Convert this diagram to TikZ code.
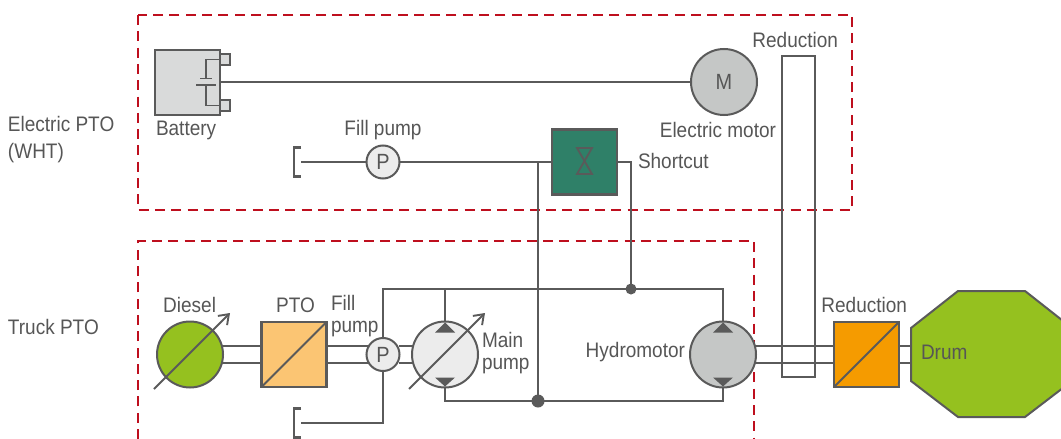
\documentclass[tikz,border=0pt]{standalone}
\usepackage{fontspec}
\setmainfont[FakeStretch=0.905]{Liberation Sans}
\usepackage{tikz}
\usetikzlibrary{arrows.meta,positioning,calc}
\definecolor{linegray}{HTML}{5A5A5A}
\definecolor{textgray}{HTML}{565656}
\definecolor{framered}{HTML}{BE0F1E}
\definecolor{dieselgreen}{HTML}{95C11F}
\definecolor{ptoorange}{HTML}{FBC573}
\definecolor{gearorange}{HTML}{F59B00}
\definecolor{valvegreen}{HTML}{2F8068}
\definecolor{motorgray}{HTML}{C5C7C6}
\definecolor{pumpgray}{HTML}{ECECEC}
\definecolor{batterygray}{HTML}{D9DADA}
\newcommand{\pumptris}[1]{
\fill[linegray] ($(#1)+(0,-32)$) -- ($(#1)+(10,-22)$) -- ($(#1)+(-10,-22)$) -- cycle;
\fill[linegray] ($(#1)+(0,32)$) -- ($(#1)+(10,23)$) -- ($(#1)+(-10,23)$) -- cycle;
}
\newcommand{\tankmark}[1]{
\draw[pipe] ($(#1)+(0,-14.5)$) -- ++(-7,0) -- ++(0,29) -- ++(7,0);
}
\tikzset{
label text/.style = {text = textgray, font = \fontsize{21}{22}\selectfont, inner sep = 0, outer sep = 0},
pipe/.style = {draw = linegray, line width = 2.1},
unit/.style = {draw = linegray, line width = 2.2, inner sep = 0, outer sep = 0, minimum size = 65},
rotor/.style = {circle, draw = linegray, line width = 2, inner sep = 0, outer sep = 0, minimum size = 66},
small pump/.style = {circle, draw = linegray, line width = 2, fill = pumpgray, inner sep = 0, outer sep = 0, minimum size = 33, text = textgray, font = \fontsize{22}{24}\selectfont},
joint/.style = {circle, fill = linegray, inner sep = 0, outer sep = 0},
frame box/.style = {draw = framered, line width = 2.4, dash pattern = on 10 off 6.3},
vary/.style = {draw = linegray, line width = 1.9, -{Straight Barb[length=9,width=13,line width=1.9]}}
}
\begin{document}
\begin{tikzpicture}[x = 1pt, y = -1pt]
\useasboundingbox (0,0) rectangle (1061,439);
\clip (0,0) rectangle (1061,439);
% frames
\draw[frame box] (138,15) rectangle (852,210);
\draw[frame box] (138,439) -- (138,241) -- (754,241) -- (754,439);
% electric side
\node[unit, fill = batterygray, line width = 2] (battery) at (187,82) {};
\node[unit, fill = batterygray, minimum size = 10.5, line width = 1.8] (termup) at (225,59.5) {};
\node[unit, fill = batterygray, minimum size = 10.5, line width = 1.8] (termdown) at (225,105.5) {};
\node[rotor, fill = motorgray, text = textgray, font = \fontsize{22}{24}\selectfont] (motor) at (724,82) {M};
\node[draw = linegray, line width = 2, inner sep = 0, outer sep = 0, minimum width = 33, minimum height = 321] (tallgear) at (798.5,216.5) {};
\node[small pump] (fillA) at (383,162) {P};
\node[unit, fill = valvegreen] (valve) at (584.5,162) {};
\coordinate (tankA) at (301,162);
% truck side
\node[rotor, fill = dieselgreen] (diesel) at (190,354.5) {};
\node[unit, fill = ptoorange] (pto) at (294,354.5) {};
\node[small pump] (fillB) at (383,354.5) {P};
\node[rotor, fill = pumpgray] (mainpump) at (445,354.5) {};
\node[rotor, fill = motorgray] (hydro) at (723,354.5) {};
\node[unit, fill = gearorange] (gear) at (866.5,354.5) {};
\coordinate (tankB) at (301,423);
\node[joint, minimum size = 11] (jtop) at (631,289) {};
\node[joint, minimum size = 13] (jbot) at (538,401) {};
% drum
\draw[linegray, line width = 2, fill = dieselgreen] (911,328) -- (958,291) -- (1025,291) -- (1072,328) -- (1072,381) -- (1025,417) -- (958,417) -- (911,381) -- cycle;
\coordinate (drumA) at (911,346);
\coordinate (drumB) at (911,363);
% connectors
\draw[pipe] (battery.east) -- (motor.west);
\draw[pipe] ($(motor.east)+(-2,-9)$) -- ($(motor.east)+(-2,-9)$ -| tallgear.west);
\draw[pipe] ($(motor.east)+(-2,9)$) -- ($(motor.east)+(-2,9)$ -| tallgear.west);
\draw[pipe] (tankA) -- (fillA.west);
\tankmark{tankA}
\draw[pipe] (fillA.east) -- (valve.west);
\draw[pipe] (jbot.center) |- (valve.west);
\draw[pipe] (valve.east) -| (jtop.center);
\draw[pipe] (fillB.north) |- (jtop.center) -| (hydro.north);
\draw[pipe] (mainpump.north) -- (mainpump.north |- jtop.center);
\draw[pipe] (mainpump.south) |- (jbot.center) -| (hydro.south);
\draw[pipe] (fillB.south) |- (tankB);
\tankmark{tankB}
\foreach \off in {-8.5,8.5} {
\draw[pipe] ($(diesel.east)+(-1,\off)$) -- ($(pto.west)+(0,\off)$);
\draw[pipe] ($(pto.east)+(0,\off)$) -- ($(fillB.west)+(1,\off)$);
\draw[pipe] ($(fillB.east)+(-1,\off)$) -- ($(mainpump.west)+(1,\off)$);
\draw[pipe] ($(hydro.east)+(-1,\off)$) -- ($(gear.west)+(0,\off)$);
}
\draw[pipe] (gear.east |- drumA) -- (drumA);
\draw[pipe] (gear.east |- drumB) -- (drumB);
% symbols
\pumptris{mainpump}
\pumptris{hydro}
\draw[vary] (154,389) -- (230,313);
\draw[vary] (409,389) -- (485,313);
\draw[pipe] (pto.south west) -- (pto.north east);
\draw[pipe] (gear.south west) -- (gear.north east);
\draw[linegray, line width = 1.8] (206,78) -- (206,59.5) -- (termup.west);
\draw[linegray, line width = 1.8] (206,85) -- (206,105.5) -- (termdown.west);
\draw[linegray, line width = 1.8] (200,78.5) -- (212,78.5);
\draw[linegray, line width = 1.8] (196,85) -- (216,85);
\draw[linegray, line width = 1.8] (577,148) -- (592,148) -- (577,174) -- (592,174) -- cycle;
% labels
\node[label text, anchor = west] (lblelectric) at (8,124) {Electric PTO};
\node[label text, anchor = west] (lblwht) at (8,153) {(WHT)};
\node[label text, anchor = west] (lbltruck) at (8,327) {Truck PTO};
\node[label text, anchor = west] (lblbattery) at (156,130) {Battery};
\node[label text] (lblfillA) at (383,130) {Fill pump};
\node[label text, anchor = east] (lblmotor) at (776,130) {Electric motor};
\node[label text, anchor = east] (lblredA) at (838,40) {Reduction};
\node[label text, anchor = west] (lblshort) at (638,161) {Shortcut};
\node[label text, anchor = east] (lbldiesel) at (216,305) {Diesel};
\node[label text] (lblpto) at (295.5,305) {PTO};
\node[label text, anchor = west, align = left] (lblfillB) at (331,316.5) {Fill\\pump};
\node[label text, anchor = west, align = left] (lblmain) at (482,353.5) {Main\\pump};
\node[label text, anchor = east] (lblhydro) at (685,352) {Hydromotor};
\node[label text, anchor = east] (lblredB) at (907,305) {Reduction};
\node[label text, anchor = west] (lbldrum) at (921,352) {Drum};
\end{tikzpicture}
\end{document}
